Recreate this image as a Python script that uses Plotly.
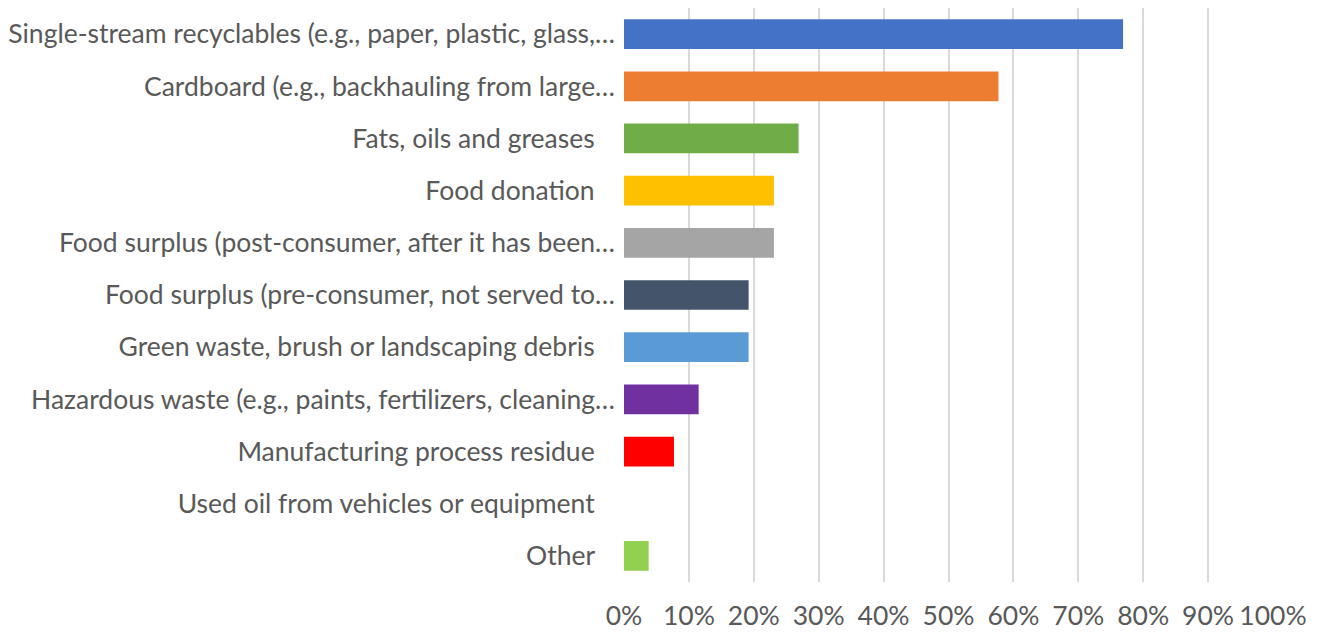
import plotly.graph_objects as go

categories = [
    "Single-stream recyclables (e.g., paper, plastic, glass,…",
    "Cardboard (e.g., backhauling from large…",
    "Fats, oils and greases\u00a0\u00a0\u00a0",
    "Food donation\u00a0\u00a0\u00a0",
    "Food surplus (post-consumer, after it has been…",
    "Food surplus (pre-consumer, not served to…",
    "Green waste, brush or landscaping debris\u00a0\u00a0\u00a0",
    "Hazardous waste (e.g., paints, fertilizers, cleaning…",
    "Manufacturing process residue\u00a0\u00a0\u00a0",
    "Used oil from vehicles or equipment\u00a0\u00a0\u00a0",
    "Other\u00a0\u00a0\u00a0",
]
values = [0.769, 0.577, 0.269, 0.231, 0.231, 0.192, 0.192, 0.115, 0.077, 0.0, 0.038]
colors = ["#4472C4", "#ED7D31", "#70AD47", "#FFC000", "#A5A5A5", "#44546A",
          "#5B9BD5", "#7030A0", "#FF0000", "#00B050", "#92D050"]
tick_vals = [i / 10 for i in range(11)]
tick_text = [f"{i*10}%" for i in range(11)]

fig = go.Figure(go.Bar(
    x=values, y=categories, orientation="h",
    marker=dict(color=colors, line=dict(width=0)),
    hoverinfo="x+y",
))
fig.update_layout(
    width=1320, height=633,
    margin=dict(l=612, r=55, t=0, b=59),
    paper_bgcolor="white", plot_bgcolor="white",
    font=dict(family="Lato", size=26.5, color="#595959"),
    bargap=0.43,
    showlegend=False,
    xaxis=dict(range=[0, 1], tickvals=tick_vals, ticktext=tick_text,
               showgrid=True, gridcolor="#D9D9D9", gridwidth=1.5,
               zeroline=False, showline=False, ticks="",
               ticklabelstandoff=15, fixedrange=True),
    yaxis=dict(autorange="reversed", showgrid=False, zeroline=False,
               showline=False, ticks="", ticklabelstandoff=8, fixedrange=True),
)
fig.write_html("out.html")
